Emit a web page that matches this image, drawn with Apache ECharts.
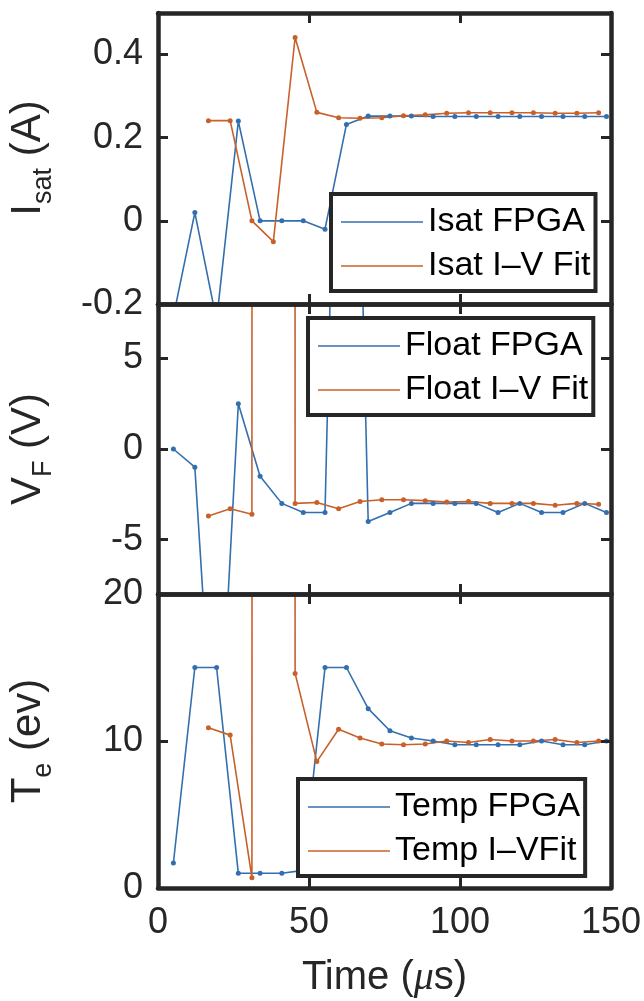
<!DOCTYPE html>
<html>
<head>
<meta charset="utf-8">
<title>Probe signals</title>
<script src="https://cdn.jsdelivr.net/npm/echarts@6/dist/echarts.min.js"></script>
<style>
  html, body { margin: 0; padding: 0; background: #fff; }
  #main { width: 644px; height: 1001px; }
</style>
</head>
<body>
<div id="main"></div>
<script>
// sample times (us)
const tFpga = [5.1, 12.2, 19.4, 26.6, 33.8, 41.0, 48.1, 55.3, 62.4, 69.6, 76.8, 83.9, 91.1, 98.3, 105.4, 112.6, 119.8, 127.0, 134.1, 141.3, 148.5];
const tFit = [16.7, 23.9, 31.1, 38.2, 45.4, 52.6, 59.8, 66.9, 74.1, 81.3, 88.5, 95.6, 102.8, 110.0, 117.2, 124.3, 131.5, 138.7, 145.9];

// Isat (A)
const isatFpga = [-0.23, 0.02, -0.24, 0.24, 0, 0, 0, -0.02, 0.232, 0.252, 0.252, 0.252, 0.251, 0.251, 0.251, 0.251, 0.251, 0.251, 0.251, 0.251, 0.251];
const isatFit = [0.241, 0.241, 0.0, -0.05, 0.441, 0.261, 0.248, 0.247, 0.248, 0.253, 0.255, 0.259, 0.26, 0.26, 0.26, 0.26, 0.259, 0.259, 0.26];
// floating potential (V)
const floatFpga = [0.0, -1.0, -20, 2.5, -1.5, -3.0, -3.5, -3.5, 46, -4.0, -3.5, -3.0, -3.0, -3.0, -3.0, -3.5, -3.0, -3.5, -3.5, -3.0, -3.5];
const floatFit = [-3.7, -3.3, -3.6, 5000, -3.0, -2.95, -3.3, -2.9, -2.8, -2.8, -2.85, -2.93, -2.9, -3.0, -3.0, -3.0, -3.1, -3.0, -3.05];
// electron temperature (eV)
const tempFpga = [1.7, 15, 15, 1.0, 1.0, 1.0, 1.2, 15, 15, 12.2, 10.7, 10.2, 10.0, 9.75, 9.75, 9.75, 9.75, 10.0, 9.75, 9.75, 10.0];
const tempFit = [10.9, 10.4, 0.7, 5000, 14.6, 8.6, 10.8, 10.2, 9.8, 9.75, 9.8, 10.0, 9.9, 10.1, 10.0, 10.0, 10.1, 9.9, 10.0];

// tick labels
const xTicks = [0, 50, 100, 150];
const isatTicks = [-0.2, 0, 0.2, 0.4];
const floatTicks = [-5, 0, 5];
const tempTicks = [0, 10, 20];

const ink = '#262626';
const blue = '#336fae';
const orange = '#c8602a';
const font = '"Liberation Sans", Arial, sans-serif';

const myChart = echarts.init(document.getElementById('main'));

const grids = [
  {left: 158, width: 453, top: 13, height: 291},
  {left: 158, width: 453, top: 304, height: 290},
  {left: 158, width: 453, top: 594, height: 294}
].map(g => Object.assign(g, {outerBoundsMode: 'none', containLabel: false}));

function frameLine() {
  return {show: true, onZero: false, lineStyle: {color: ink, width: 4.5}};
}
function ticks(vals) {
  return {show: true, inside: true, length: 10, customValues: vals, lineStyle: {color: ink, width: 3}};
}

let xAxis = [];
let yAxis = [];
function addAxes(gi, yMin, yMax, yTicks, lastRow) {
  const xb = {
    gridIndex: gi, type: 'value', position: 'bottom', min: 0, max: 150, z: 10,
    axisLine: frameLine(), axisTick: ticks(xTicks), splitLine: {show: false},
    axisLabel: {show: lastRow, customValues: xTicks, fontSize: 36, color: ink, fontFamily: font, margin: 17}
  };
  if (lastRow) {
    xb.name = 'Time ({i|\u03bc}s)';
    xb.nameLocation = 'middle';
    xb.nameGap = 70;
    xb.nameTextStyle = {fontSize: 40, color: ink, fontFamily: font,
      rich: {i: {fontSize: 40, fontStyle: 'italic', fontFamily: '"Liberation Serif", serif', color: ink}}};
  }
  xAxis.push(xb);
  xAxis.push({
    gridIndex: gi, type: 'value', position: 'top', min: 0, max: 150, z: 10,
    axisLine: frameLine(), axisTick: ticks(xTicks), splitLine: {show: false}, axisLabel: {show: false}
  });
  yAxis.push({
    gridIndex: gi, type: 'value', position: 'left', min: yMin, max: yMax, z: 10,
    axisLine: frameLine(), axisTick: ticks(yTicks), splitLine: {show: false},
    axisLabel: {customValues: yTicks, fontSize: 36, color: ink, fontFamily: font, margin: 15}
  });
  yAxis.push({
    gridIndex: gi, type: 'value', position: 'right', min: yMin, max: yMax, z: 10,
    axisLine: frameLine(), axisTick: ticks(yTicks), splitLine: {show: false}, axisLabel: {show: false}
  });
}
addAxes(0, -0.2, 0.5, isatTicks, false);
addAxes(1, -8, 8, floatTicks, false);
addAxes(2, 0, 20, tempTicks, true);

function pairs(t, v) {
  return t.map((x, i) => [x, v[i]]);
}
function line(name, gi, t, v, color) {
  return {
    name: name, type: 'line', xAxisIndex: gi * 2, yAxisIndex: gi * 2,
    data: pairs(t, v), clip: true, symbol: 'circle', symbolSize: 5, showSymbol: true,
    lineStyle: {width: 1.6, color: color}, itemStyle: {color: color},
    emphasis: {disabled: true}
  };
}

function legendBox(names, left, top) {
  return {
    data: names, orient: 'vertical', left: left, top: top,
    icon: 'rect', itemWidth: 82, itemHeight: 1.5, itemGap: 8,
    padding: [10, 5, 7, 10], borderColor: ink, borderWidth: 4, backgroundColor: '#fff',
    textStyle: {fontSize: 34, lineHeight: 36, color: '#000', fontFamily: font},
    selectedMode: false, z: 6
  };
}

// y axis titles with subscripts
const mctx = document.createElement('canvas').getContext('2d');
function textW(s, size) {
  mctx.font = size + 'px ' + font;
  return mctx.measureText(s).width;
}
function yName(main, sub, unit, cy) {
  const w1 = textW(main, 42), w2 = textW(sub, 27), w3 = textW(unit, 42);
  const x0 = -(w1 + w2 + w3) / 2;
  const st = (txt, size) => ({text: txt, font: size + 'px ' + font, fill: ink, verticalAlign: 'middle', align: 'left'});
  return {
    type: 'group', x: 28, y: cy, rotation: Math.PI / 2,
    children: [
      {type: 'text', x: x0, y: 0, style: st(main, 42)},
      {type: 'text', x: x0 + w1, y: 16, style: st(sub, 27)},
      {type: 'text', x: x0 + w1 + w2, y: 0, style: st(unit, 42)}
    ]
  };
}

let option = {
  animation: false,
  backgroundColor: '#fff',
  grid: grids,
  xAxis: xAxis,
  yAxis: yAxis,
  legend: [
    legendBox(['Isat FPGA', 'Isat I\u2013V Fit'], 331, 194),
    legendBox(['Float FPGA', 'Float I\u2013V Fit'], 308, 318),
    legendBox(['Temp FPGA', 'Temp I\u2013VFit'], 298, 779)
  ],
  graphic: [
    yName('I', 'sat', ' (A)', 158),
    yName('V', 'F', ' (V)', 449),
    yName('T', 'e', ' (ev)', 741)
  ],
  series: [
    line('Isat FPGA', 0, tFpga, isatFpga, blue),
    line('Isat I\u2013V Fit', 0, tFit, isatFit, orange),
    line('Float FPGA', 1, tFpga, floatFpga, blue),
    line('Float I\u2013V Fit', 1, tFit, floatFit, orange),
    line('Temp FPGA', 2, tFpga, tempFpga, blue),
    line('Temp I\u2013VFit', 2, tFit, tempFit, orange)
  ]
};
myChart.setOption(option);
</script>
</body>
</html>
